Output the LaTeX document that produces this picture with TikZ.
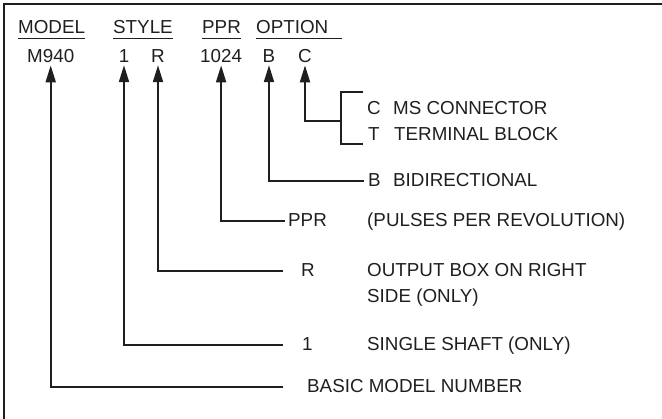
\documentclass[tikz,border=0pt]{standalone}
\usepackage{fontspec}
\setmainfont{Liberation Sans}
\usetikzlibrary{arrows.meta,calc}
\begin{document}
\begin{tikzpicture}[x=1pt,y=-1pt,
  txt/.style={inner sep=0pt,anchor=base west,font=\fontsize{18.8}{22}\selectfont,text=black!88},
  ctxt/.style={txt,anchor=base},
  ln/.style={line width=2pt,draw=black!88},
  arr/.style={ln,-{Triangle[length=17pt,width=10pt]}},
  ul/.style={line width=1.3pt,draw=black!88},
  frame/.style={line width=2.4pt,draw=black!88}]
\useasboundingbox (0,0) rectangle (662,419);
\draw[frame] (4,419) -- (4,4) -- (662,4);
% headers
\node[txt] (hm) at (18,34) {MODEL};
\node[txt] (hs) at (113,34) {STYLE};
\node[txt] (hp) at (202,34) {PPR};
\node[txt] (ho) at (256,34) {OPTION};
\draw[ul] ($(hm.base west)+(0,4.5)$) -- ($(hm.base east)+(0,4.5)$);
\draw[ul] ($(hs.base west)+(0,4.5)$) -- ($(hs.base east)+(0,4.5)$);
\draw[ul] ($(hp.base west)+(0,4.5)$) -- ($(hp.base east)+(0,4.5)$);
\draw[ul] ($(ho.base west)+(0,4.5)$) -- ($(ho.base east)+(14,4.5)$);
% code row
\node[txt] (m) at (27,63) {M940};
\node[ctxt] (s1) at (124,63) {1};
\node[ctxt] (sr) at (158,63) {R};
\node[txt] (p) at (200,63) {1024};
\node[ctxt] (ob) at (269,63) {B};
\node[ctxt] (oc) at (305,63) {C};
% labels
\node[txt] (lc) at (367,115) {C};
\node[txt] (lcx) at (393,115) {MS CONNECTOR};
\node[txt] (lt) at (368,141) {T};
\node[txt] (ltx) at (394,141) {TERMINAL BLOCK};
\node[txt] (lb) at (368,187) {B};
\node[txt] (lbx) at (393,187) {BIDIRECTIONAL};
\node[txt] (lp) at (288,227) {PPR};
\node[txt] (lpx) at (367,227) {(PULSES PER REVOLUTION)};
\node[txt] (lr) at (301,277) {R};
\node[txt] (lrx) at (367,277) {OUTPUT BOX ON RIGHT};
\node[txt] (lry) at (367,303) {SIDE (ONLY)};
\node[txt] (l1) at (302,351) {1};
\node[txt] (l1x) at (367,351) {SINGLE SHAFT (ONLY)};
\node[txt] (lm) at (307,393) {BASIC MODEL NUMBER};
% bracket for C / T
\coordinate (bt) at (363,92);
\coordinate (btc) at (341,92);
\coordinate (bbc) at (341,144);
\coordinate (bb) at (363,144);
\coordinate (bm) at (341,121);
\draw[ln] (bt) -- (btc) -- (bbc) -- (bb);
% connectors
\draw[arr] (bm) -| ($(oc.south)+(0,2)$);
\draw[arr] ([xshift=-4pt]lb.west) -| ($(ob.south)+(0,2)$);
\draw[arr] ([xshift=-3pt]lp.west) -| ($(p.south)+(0,2)$);
\draw[arr] ([xshift=-18pt]lr.west) -| ($(sr.south)+(0,2)$);
\draw[arr] ([xshift=-19pt]l1.west) -| ($(s1.south)+(0,2)$);
\draw[arr] ([xshift=-24pt]lm.west) -| ($(m.south)+(0,2)$);
\end{tikzpicture}
\end{document}
